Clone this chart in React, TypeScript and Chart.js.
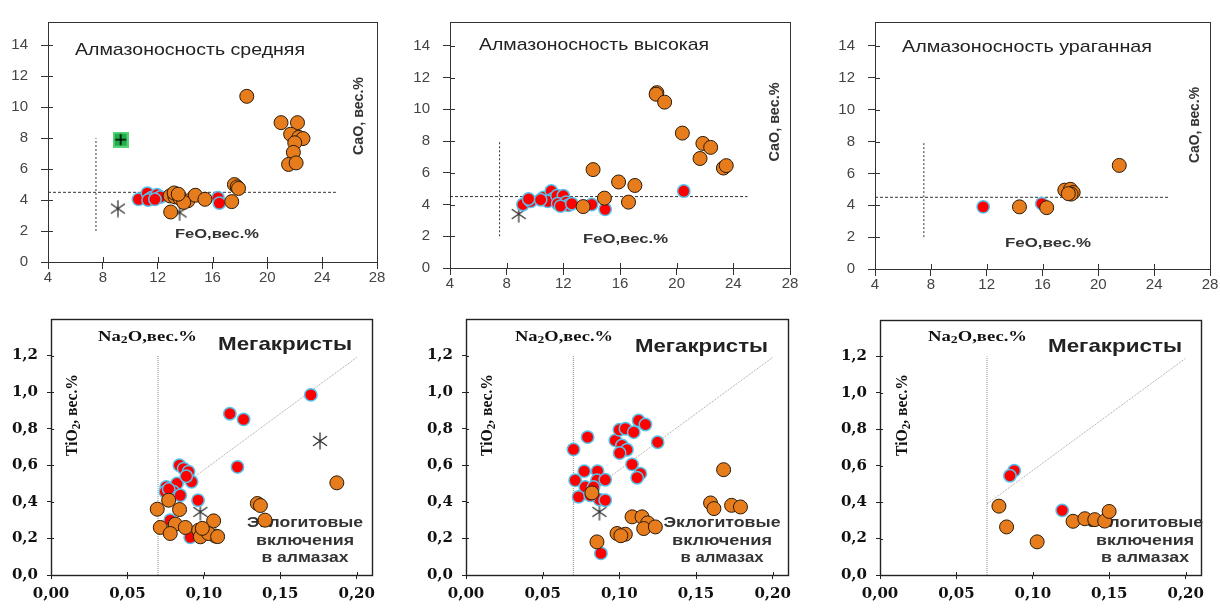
import React, { useEffect, useRef } from 'react';
import { Chart, registerables } from 'chart.js';

Chart.register(...registerables);

const W = 1220;
const H = 608;

// ---- tick values / labels ----
const feoTicks = [4, 8, 12, 16, 20, 24, 28];
const caoTicks = [0, 2, 4, 6, 8, 10, 12, 14];
const na2oTicks = [0, 0.05, 0.1, 0.15, 0.2];
const na2oTickLabels = ['0,00', '0,05', '0,10', '0,15', '0,20'];
const tio2Ticks = [0, 0.2, 0.4, 0.6, 0.8, 1.0, 1.2];
const tio2TickLabels = ['0,0', '0,2', '0,4', '0,6', '0,8', '1,0', '1,2'];

// ---- reference lines ----
const feoCaoHLine = [[4, 4.5], [25, 4.5]];
const feoCaoVLine = [[7.5, 2], [7.5, 8]];
const na2oVLine = [[0.07, 0], [0.07, 1.2]];
const megaLine = [[0.07, 0.39], [0.2, 1.19]];

// ---- Panel 1: Алмазоносность средняя (FeO, CaO) ----
const midOrange = [
  [18.5, 10.7], [21.0, 9.0], [22.2, 9.0], [21.7, 8.25], [22.3, 8.05], [22.6, 7.97],
  [22.0, 7.7], [21.9, 7.08], [21.55, 6.3], [22.1, 6.4], [17.6, 5.0], [17.8, 4.85],
  [17.9, 4.75], [12.9, 4.27], [13.26, 4.21], [13.2, 4.46], [13.63, 4.11], [14.2, 3.95],
  [14.75, 4.31], [15.45, 4.05], [17.4, 3.9], [12.95, 3.23], [13.9, 3.85], [13.5, 4.38],
];
const midRed = [
  [10.6, 4.05], [11.25, 4.45], [11.55, 4.15], [11.95, 4.35], [12.2, 4.2], [11.3, 4.0],
  [11.8, 4.05], [16.4, 4.15], [16.5, 3.8],
];
const midStar = [[9.1, 3.45], [13.6, 3.2]];
const midGreen = [[9.3, 7.9]];

// ---- Panel 2: Алмазоносность высокая ----
const highOrange = [
  [18.6, 11.05], [18.55, 10.95], [19.15, 10.45], [20.4, 8.5], [21.85, 7.85], [22.4, 7.6],
  [21.65, 6.9], [23.3, 6.3], [23.5, 6.45], [14.1, 6.2], [15.9, 5.42], [17.05, 5.2],
  [14.9, 4.4], [16.6, 4.15], [13.4, 3.87],
];
const highRed = [
  [20.5, 4.85], [14.95, 3.7], [9.15, 4.0], [9.7, 4.2], [9.55, 4.35], [10.6, 4.45],
  [11.15, 4.85], [11.25, 4.35], [10.9, 4.2], [11.55, 4.55], [12.0, 4.55], [11.6, 4.05],
  [12.2, 4.15], [12.35, 3.95], [11.8, 3.9], [14.0, 4.0], [10.4, 4.3], [12.6, 4.05],
];
const highStar = [[8.85, 3.4]];

// ---- Panel 3: Алмазоносность ураганная ----
const hurOrange = [
  [21.5, 6.5], [17.6, 4.95], [18.0, 5.0], [18.2, 4.8], [18.05, 4.7], [17.85, 4.73],
  [14.35, 3.9], [16.3, 3.85],
];
const hurRed = [[11.75, 3.9], [15.95, 4.1]];

// ---- Panel 4: Na2O–TiO2 (средняя) ----
const midMegaRed = [
  [0.170, 0.985], [0.117, 0.882], [0.126, 0.851], [0.122, 0.591], [0.084, 0.60], [0.0868, 0.582],
  [0.090, 0.565], [0.092, 0.51], [0.0754, 0.482], [0.0824, 0.50], [0.0748, 0.455], [0.0802, 0.455],
  [0.0846, 0.436], [0.0962, 0.409], [0.078, 0.30], [0.0911, 0.206], [0.0885, 0.54], [0.077, 0.47],
];
const midEclOrange = [
  [0.187, 0.504], [0.135, 0.391], [0.137, 0.38], [0.140, 0.30], [0.077, 0.409], [0.0695, 0.36],
  [0.0841, 0.358], [0.0715, 0.26], [0.0813, 0.278], [0.0879, 0.26], [0.078, 0.227], [0.0966, 0.245],
  [0.1064, 0.296], [0.0977, 0.209], [0.1075, 0.213], [0.103, 0.227], [0.099, 0.255], [0.109, 0.21],
];
const midMegaStar = [[0.176, 0.733], [0.0977, 0.345]];

// ---- Panel 5: Na2O–TiO2 (высокая) ----
const highMegaRed = [
  [0.0701, 0.687], [0.0793, 0.754], [0.0974, 0.736], [0.100, 0.794], [0.104, 0.80], [0.1094, 0.781],
  [0.1126, 0.845], [0.117, 0.823], [0.125, 0.726], [0.1017, 0.708], [0.105, 0.685], [0.1002, 0.667],
  [0.1083, 0.605], [0.1137, 0.554], [0.1116, 0.532], [0.0771, 0.568], [0.0858, 0.568], [0.0712, 0.518],
  [0.0854, 0.518], [0.0908, 0.521], [0.0778, 0.481], [0.0734, 0.427], [0.0871, 0.412], [0.0908, 0.409],
  [0.081, 0.436], [0.088, 0.118], [0.0832, 0.481],
];
const highEclOrange = [
  [0.0821, 0.449], [0.1083, 0.318], [0.1148, 0.318], [0.1185, 0.285], [0.1159, 0.254], [0.1235, 0.263],
  [0.0985, 0.227], [0.1039, 0.223], [0.0854, 0.181], [0.1595, 0.394], [0.1617, 0.363], [0.168, 0.576],
  [0.1732, 0.381], [0.179, 0.372], [0.101, 0.215],
];
const highMegaStar = [[0.087, 0.345]];

// ---- Panel 6: Na2O–TiO2 (ураганная) ----
const hurMegaRed = [[0.0878, 0.573], [0.085, 0.545], [0.1192, 0.355]];
const hurEclOrange = [
  [0.0778, 0.378], [0.0828, 0.264], [0.1028, 0.182], [0.1263, 0.295], [0.134, 0.309],
  [0.1405, 0.304], [0.147, 0.296], [0.1499, 0.349],
];

const ORANGE = '#e67c1c';
const ORANGE_EDGE = '#2a1a08';
const RED = '#ff0000';
const RED_EDGE = '#55c2ee';

type Seg = { t: string; sub?: boolean };
type TextItem = {
  segs: Seg[];
  cx: number;
  cy: number;
  w: number;
  size: number;
  family: string;
  weight: string;
  color: string;
  rot?: boolean;
};

type Box = { left: number; top: number; right: number; bottom: number };

type PanelCfg = {
  kind: 'top' | 'bottom';
  box: Box;
  orange: number[][];
  red: number[][];
  star: number[][];
  green: number[][];
  texts: TextItem[];
};

const S = (t: string): Seg[] => [{ t }];

function topTexts(title: string, titleL: number, titleR: number, titleY: number, feoL: number, feoR: number, feoY: number, caoX: number, caoY: number, caoLen: number): TextItem[] {
  return [
    { segs: S(title), cx: (titleL + titleR) / 2, cy: titleY, w: titleR - titleL, size: 17, family: '"Liberation Sans", Arial, sans-serif', weight: 'normal', color: '#222' },
    { segs: S('FeO,вес.%'), cx: (feoL + feoR) / 2, cy: feoY, w: feoR - feoL, size: 13, family: '"Liberation Sans", Arial, sans-serif', weight: 'bold', color: '#333' },
    { segs: S('CaO, вес.%'), cx: caoX, cy: caoY, w: caoLen, size: 15, family: '"Liberation Sans", Arial, sans-serif', weight: 'bold', color: '#333', rot: true },
  ];
}

function bottomTexts(naL: number, naR: number, megL: number, megR: number, megY: number, tiX: number, eclCx: number, eclW: [number, number, number]): TextItem[] {
  const serif = '"Liberation Serif", "Times New Roman", serif';
  const sans = '"Liberation Sans", Arial, sans-serif';
  return [
    { segs: [{ t: 'Na' }, { t: '2', sub: true }, { t: 'O,вес.%' }], cx: (naL + naR) / 2, cy: 337, w: naR - naL, size: 15, family: serif, weight: 'bold', color: '#111' },
    { segs: S('Мегакристы'), cx: (megL + megR) / 2, cy: megY, w: megR - megL, size: 19, family: sans, weight: 'bold', color: '#222' },
    { segs: [{ t: 'TiO' }, { t: '2', sub: true }, { t: ', вес.%' }], cx: tiX, cy: 415, w: 82, size: 17, family: serif, weight: 'bold', color: '#111', rot: true },
    { segs: S('Эклогитовые'), cx: eclCx, cy: 523, w: eclW[0], size: 15, family: sans, weight: 'bold', color: '#333' },
    { segs: S('включения'), cx: eclCx, cy: 541, w: eclW[1], size: 15, family: sans, weight: 'bold', color: '#333' },
    { segs: S('в алмазах'), cx: eclCx, cy: 558, w: eclW[2], size: 15, family: sans, weight: 'bold', color: '#333' },
  ];
}

const panels: PanelCfg[] = [
  {
    kind: 'top', box: { left: 48, top: 9, right: 377, bottom: 262 },
    orange: midOrange, red: midRed, star: midStar, green: midGreen,
    texts: topTexts('Алмазоносность средняя', 75, 305, 50, 175, 259, 234, 359, 116, 78),
  },
  {
    kind: 'top', box: { left: 450, top: 13, right: 790, bottom: 268 },
    orange: highOrange, red: highRed, star: highStar, green: [],
    texts: topTexts('Алмазоносность высокая', 479, 709, 45, 583, 668, 239, 775, 122, 79),
  },
  {
    kind: 'top', box: { left: 875, top: 20, right: 1210, bottom: 269 },
    orange: hurOrange, red: hurRed, star: [], green: [],
    texts: topTexts('Алмазоносность ураганная', 902, 1152, 47, 1005, 1091, 243, 1195, 125, 76),
  },
  {
    kind: 'bottom', box: { left: 51, top: 319, right: 372, bottom: 575 },
    orange: midEclOrange, red: midMegaRed, star: midMegaStar, green: [],
    texts: bottomTexts(98, 197, 218, 352, 345, 73, 305, [116, 98, 87]),
  },
  {
    kind: 'bottom', box: { left: 466, top: 319, right: 788, bottom: 575 },
    orange: highEclOrange, red: highMegaRed, star: highMegaStar, green: [],
    texts: bottomTexts(515, 613, 635, 768, 347, 488, 722, [117, 100, 83]),
  },
  {
    kind: 'bottom', box: { left: 880, top: 320, right: 1201, bottom: 575 },
    orange: hurEclOrange, red: hurMegaRed, star: [], green: [],
    texts: bottomTexts(928, 1027, 1048, 1182, 347, 903, 1145, [116, 98, 88]),
  },
];

const toXY = (arr: number[][]) => arr.map(([x, y]) => ({ x, y }));

function makeStar(): HTMLCanvasElement {
  const c = document.createElement('canvas');
  c.width = 18;
  c.height = 18;
  const g = c.getContext('2d')!;
  g.strokeStyle = '#333';
  g.lineWidth = 1.3;
  g.lineCap = 'round';
  const cx = 9, cy = 9, r = 8;
  g.beginPath();
  for (const a of [90, 35, -35]) {
    const rad = (a * Math.PI) / 180;
    g.moveTo(cx - r * Math.cos(rad), cy - r * Math.sin(rad));
    g.lineTo(cx + r * Math.cos(rad), cy + r * Math.sin(rad));
  }
  g.stroke();
  return c;
}

function makeGreen(): HTMLCanvasElement {
  const c = document.createElement('canvas');
  c.width = 16;
  c.height = 16;
  const g = c.getContext('2d')!;
  g.fillStyle = '#5ad27a';
  g.fillRect(0, 0, 16, 16);
  g.fillStyle = '#1fae49';
  g.fillRect(2, 2, 12, 12);
  g.strokeStyle = '#000';
  g.lineWidth = 1.6;
  g.beginPath();
  g.moveTo(8, 2.5); g.lineTo(8, 13.5);
  g.moveTo(2.5, 8); g.lineTo(13.5, 8);
  g.stroke();
  return c;
}

function drawText(ctx: CanvasRenderingContext2D, it: TextItem) {
  ctx.save();
  const fontFor = (s: Seg) => `${it.weight} ${s.sub ? Math.round(it.size * 0.72) : it.size}px ${it.family}`;
  let total = 0;
  const widths = it.segs.map((s) => {
    ctx.font = fontFor(s);
    const w = ctx.measureText(s.t).width;
    total += w;
    return w;
  });
  ctx.translate(it.cx, it.cy);
  if (it.rot) ctx.rotate(-Math.PI / 2);
  ctx.scale(it.w / total, 1);
  ctx.fillStyle = it.color;
  ctx.textBaseline = 'middle';
  ctx.textAlign = 'left';
  let x = -total / 2;
  it.segs.forEach((s, i) => {
    ctx.font = fontFor(s);
    ctx.fillText(s.t, x, s.sub ? it.size * 0.22 : 0);
    x += widths[i];
  });
  ctx.restore();
}

function Panel({ cfg }: { cfg: PanelCfg }) {
  const ref = useRef<HTMLCanvasElement | null>(null);
  useEffect(() => {
    const canvas = ref.current;
    if (!canvas) return;
    const isTop = cfg.kind === 'top';
    const box = cfg.box;
    const star = makeStar();
    const green = makeGreen();

    const xTicks = isTop ? feoTicks : na2oTicks;
    const yTicks = isTop ? caoTicks : tio2Ticks;
    const xLabels = isTop ? feoTicks.map(String) : na2oTickLabels;
    const yLabels = isTop ? caoTicks.map(String) : tio2TickLabels;
    const tickOut = isTop ? 7 : 4;
    const tickIn = isTop ? 5 : 3;
    const axisColor = isTop ? '#333' : '#222';

    const lines = isTop
      ? [
          { data: feoCaoHLine, dash: [3, 2], color: '#333', width: 1 },
          { data: feoCaoVLine, dash: [2, 2], color: '#333', width: 1 },
        ]
      : [
          { data: na2oVLine, dash: [1, 1], color: '#888', width: 1 },
          { data: megaLine, dash: [1, 1], color: '#a0a0a0', width: 1 },
        ];

    const deco = {
      id: 'deco',
      beforeDatasetsDraw(chart: any) {
        const ctx: CanvasRenderingContext2D = chart.ctx;
        const a = chart.chartArea;
        ctx.save();
        ctx.strokeStyle = axisColor;
        ctx.lineWidth = isTop ? 1 : 1.4;
        ctx.strokeRect(Math.round(a.left) + 0.5, Math.round(a.top) + 0.5, Math.round(a.right - a.left), Math.round(a.bottom - a.top));
        ctx.lineWidth = 1;
        ctx.beginPath();
        const xs = chart.scales.x;
        const ys = chart.scales.y;
        xTicks.forEach((v) => {
          const px = Math.round(xs.getPixelForValue(v)) + 0.5;
          ctx.moveTo(px, a.bottom);
          ctx.lineTo(px, a.bottom - tickIn);
        });
        yTicks.forEach((v) => {
          const py = Math.round(ys.getPixelForValue(v)) + 0.5;
          ctx.moveTo(a.left, py);
          ctx.lineTo(a.left + tickIn, py);
        });
        ctx.stroke();
        ctx.restore();
        cfg.texts.forEach((t) => drawText(ctx, t));
      },
    };

    const tickFontTop = { family: '"Liberation Sans", Arial, sans-serif', size: 15 };
    const tickFontBottom = { family: '"DejaVu Serif", serif', size: 15, weight: 'bold' as const };

    const chart = new Chart(canvas, {
      type: 'scatter',
      data: {
        datasets: [
          {
            label: 'orange',
            data: toXY(cfg.orange),
            backgroundColor: ORANGE,
            borderColor: ORANGE_EDGE,
            borderWidth: 1,
            pointRadius: 7,
            order: 1,
          },
          {
            label: 'red',
            data: toXY(cfg.red),
            backgroundColor: RED,
            borderColor: RED_EDGE,
            borderWidth: 1.5,
            pointRadius: 6.2,
            order: 2,
          },
          {
            label: 'star',
            data: toXY(cfg.star),
            pointStyle: star as any,
            pointRadius: 9,
            order: 3,
          },
          {
            label: 'green',
            data: toXY(cfg.green),
            pointStyle: green as any,
            pointRadius: 8,
            order: 3,
          },
          ...lines.map((l, i) => ({
            label: 'line' + i,
            data: toXY(l.data),
            showLine: true,
            borderColor: l.color,
            borderWidth: l.width,
            borderDash: l.dash,
            pointRadius: 0,
            order: 10,
          })),
        ] as any,
      },
      options: {
        responsive: false,
        animation: false,
        events: [],
        layout: {
          padding: { left: 0, top: box.top, right: W - box.right, bottom: 0 },
        },
        plugins: { legend: { display: false }, tooltip: { enabled: false } },
        scales: {
          x: {
            type: 'linear',
            min: isTop ? 4 : 0,
            max: isTop ? 28 : 0.21,
            afterBuildTicks: (s: any) => {
              s.ticks = xTicks.map((v) => ({ value: v }));
            },
            afterFit: (s: any) => {
              s.height = H - box.bottom;
            },
            ticks: {
              autoSkip: false,
              maxRotation: 0,
              padding: isTop ? 0 : 6,
              color: isTop ? '#444' : '#111',
              font: isTop ? tickFontTop : tickFontBottom,
              callback: (_v: any, i: number) => xLabels[i],
            },
            grid: { drawOnChartArea: false, drawTicks: true, tickLength: tickOut, color: axisColor },
            border: { display: false },
          },
          y: {
            type: 'linear',
            min: 0,
            max: isTop ? 15.5 : 1.4,
            afterBuildTicks: (s: any) => {
              s.ticks = yTicks.map((v) => ({ value: v }));
            },
            afterFit: (s: any) => {
              s.width = box.left;
            },
            ticks: {
              autoSkip: false,
              padding: isTop ? 13 : 9,
              color: isTop ? '#444' : '#111',
              font: isTop ? tickFontTop : tickFontBottom,
              callback: (_v: any, i: number) => yLabels[i],
            },
            grid: { drawOnChartArea: false, drawTicks: true, tickLength: tickOut, color: axisColor },
            border: { display: false },
          },
        },
      },
      plugins: [deco],
    } as any);
    return () => chart.destroy();
  }, [cfg]);
  return (
    <canvas
      ref={ref}
      width={W}
      height={H}
      style={{ position: 'absolute', left: 0, top: 0, width: W, height: H }}
    />
  );
}

export default function App() {
  return (
    <div style={{ position: 'absolute', left: 0, top: 0, width: W, height: H, background: '#fff', overflow: 'hidden' }}>
      {panels.map((p, i) => (
        <Panel key={i} cfg={p} />
      ))}
    </div>
  );
}
